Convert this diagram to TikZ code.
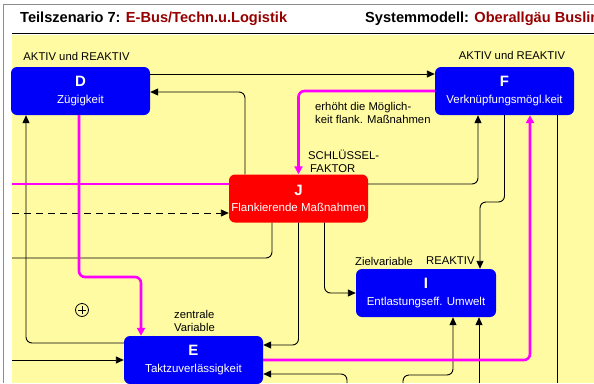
\documentclass[tikz,border=0pt]{standalone}
\usepackage{fontspec}
\setmainfont{Liberation Sans}
\usetikzlibrary{arrows.meta,calc}
\definecolor{bgyellow}{RGB}{255,251,163}
\definecolor{nodeblue}{RGB}{0,0,250}
\definecolor{nodered}{RGB}{255,0,0}
\definecolor{mag}{RGB}{255,0,255}
\definecolor{darkred}{RGB}{150,0,0}
\definecolor{framegray}{RGB}{140,140,140}
\newcommand\boxtxt[2]{{\fontsize{15}{15}\selectfont\bfseries #1}\\[2.5pt]{#2}}
\tikzset{
  box/.style={rectangle, rounded corners=6pt, minimum width=139pt, minimum height=48pt,
    text=white, align=center, inner sep=0pt, font=\fontsize{11.5}{14}\selectfont},
  bluebox/.style={box, fill=nodeblue},
  redbox/.style={box, fill=nodered},
  lbl/.style={inner sep=0pt, text=black, font=\fontsize{11.3}{13}\selectfont},
  link/.style={draw=black, line width=0.9pt, rounded corners=6pt},
  arr/.style={link, -{Triangle[length=8pt,width=7pt]}},
  mlink/.style={draw=mag, line width=2.6pt, rounded corners=6pt},
  marr/.style={mlink, -{Triangle[length=8pt,width=8pt]}},
  hdr/.style={anchor=west, inner sep=0pt, font=\bfseries\fontsize{14.6}{15}\selectfont}
}
\begin{document}
\begin{tikzpicture}[x=1pt,y=-1pt]
\useasboundingbox (0,0) rectangle (594,383);
\fill[white] (0,0) rectangle (594,383);
\draw[framegray, line width=1pt] (3,383) -- (3,4) -- (594,4);
\fill[bgyellow] (12,35) rectangle (594,383);
\draw[black, line width=1.6pt] (12,33.5) -- (594,33.5);

% header
\node[hdr] (h1) at (20,19) {Teilszenario 7: \textcolor{darkred}{E-Bus/Techn.u.Logistik}};
\node[hdr] (h2) at (365,19) {Systemmodell: \textcolor{darkred}{Oberallgäu Buslin}};

% boxes
\node[bluebox] (D) at (80.5,91) {\boxtxt{D}{Zügigkeit}};
\node[bluebox] (F) at (504.5,91) {\boxtxt{F}{Verknüpfungsmögl.keit}};
\node[redbox]  (J) at (298.5,198.5) {\boxtxt{J}{Flankierende Maßnahmen}};
\node[bluebox, minimum width=140pt] (I) at (426,293) {\boxtxt{I}{Entlastungseff. Umwelt}};
\node[bluebox] (E) at (193.5,360) {\boxtxt{E}{Taktzuverlässigkeit}};

% labels
\node[lbl] (lD) at (76.5,56) {AKTIV und REAKTIV};
\node[lbl] (lF) at (512,55) {AKTIV und REAKTIV};
\node[lbl, align=left, anchor=west] (lErh) at (315,112.5) {erhöht die Möglich-\\keit flank. Maßnahmen};
\node[lbl, align=left, anchor=west] (lSchl) at (308,161.5) {SCHLÜSSEL-\\\hspace*{2pt}FAKTOR};
\node[lbl, anchor=west] (lZiel) at (355,261) {Zielvariable};
\node[lbl, anchor=west] (lReak) at (426,261) {REAKTIV};
\node[lbl, align=left, anchor=west] (lZentr) at (174,321) {zentrale\\Variable};

% plus symbol
\node[circle, draw, line width=0.8pt, minimum size=13pt, inner sep=0pt] (plus) at (82,310) {};
\draw[line width=0.8pt] ([xshift=-4pt]plus.center) -- ([xshift=4pt]plus.center);
\draw[line width=0.8pt] ([yshift=-4pt]plus.center) -- ([yshift=4pt]plus.center);

% free-end coordinates
\coordinate (k1) at (141,277);
\coordinate (k2) at (26,343);
\coordinate (k3) at (12,360);
\coordinate (k4) at (12,258);
\coordinate (k5) at (480,202);
\coordinate (k6) at (557,383);
\coordinate (k7) at (479,383);
\coordinate (k8) at (403,383);
\coordinate (k9) at (453,375);
\coordinate (k10) at (347,383);
\coordinate (k11) at (12,184);
\coordinate (k12) at (12,213);

% black connectors
\draw[arr] ([yshift=17pt]D.east) -- ([yshift=17pt]F.west);
\draw[arr] ([xshift=-53.5pt]J.north) |- ([yshift=-1pt]D.east);
\draw[arr] ([yshift=17pt]E.west) -- (k2) -- (k2 |- D.south);
\draw[arr] (k3) -- (E.west);
\draw[arr] (J.south) |- ([yshift=15pt]E.east);
\draw[link] ([xshift=-26.5pt]J.south) |- (k4);
\draw[arr] ([xshift=26pt]J.south) |- (I.west);
\draw[arr] ([yshift=14.5pt]J.east) -| ([xshift=-26.5pt]F.south);
\draw[arr] (F.south) |- (k5) -- (k5 |- I.north);
\draw[link] (k6 |- F.south) -- (k6);
\draw[arr] (k7) -- (k7 |- I.south);
\draw[arr] (k8) |- (k9) -- (k9 |- I.south);
\draw[arr] (k10) |- ([yshift=-14pt]E.east);
\draw[arr, dash pattern=on 7pt off 5pt] (k12) -- (k12 -| J.west);

% magenta connectors
\draw[marr] (F.west) -| (J.north);
\draw[mlink] (k11) -- (k11 -| J.west);
\draw[marr] ([xshift=-1.5pt]D.south) |- (k1) -- (k1 |- E.north);
\draw[marr] (E.east) -| ([xshift=25.5pt]F.south);
\end{tikzpicture}
\end{document}
